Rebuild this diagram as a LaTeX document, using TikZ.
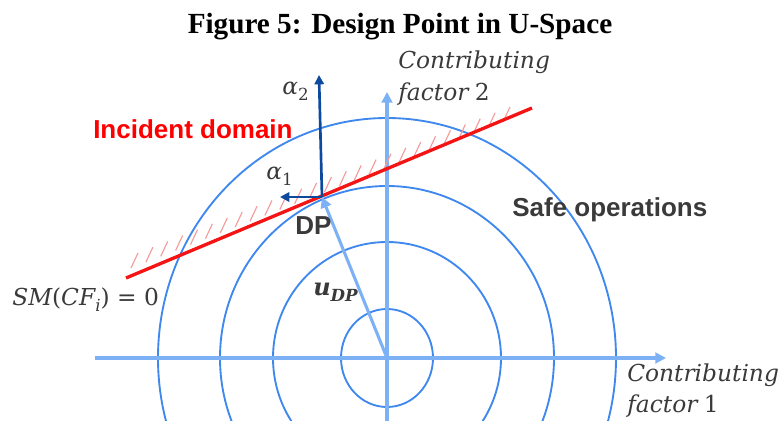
\documentclass[tikz,border=0pt]{standalone}
\usepackage{fontspec}
\setmainfont{Liberation Serif}
\newfontfamily\arialf{Liberation Sans}
\newfontfamily\cambf{DejaVu Serif}
\usetikzlibrary{arrows.meta,calc}
\definecolor{circblue}{HTML}{3F88EE}
\definecolor{axisblue}{HTML}{7DB1F5}
\definecolor{darkblue}{HTML}{0D4A9E}
\definecolor{redline}{HTML}{F41414}
\definecolor{hatchred}{HTML}{F59A9A}
\definecolor{txtgray}{HTML}{3A3A3A}
\newcommand\lsub[1]{\raisebox{-0.28em}{\fontsize{12.5}{14}\selectfont #1}}
\tikzset{
  circ/.style={draw=circblue, line width=1.4pt},
  axisline/.style={draw=axisblue, line width=2.3pt, -{Triangle[length=8pt,width=8pt]}},
  alphaarrow/.style={draw=darkblue, line width=2pt, -{Triangle[length=7pt,width=7pt]}},
  limitline/.style={draw=redline, line width=2.5pt},
  hatchline/.style={draw=hatchred, line width=0.85pt},
  mathlbl/.style={text=txtgray, inner sep=0pt, anchor=base west, font=\cambf\fontsize{17.5}{20}\selectfont},
  sanslbl/.style={inner sep=0pt, anchor=base west, font=\arialf\bfseries\fontsize{19.5}{23}\selectfont},
}
\begin{document}
\begin{tikzpicture}[x=0.75pt, y=-0.75pt]
\useasboundingbox (0,0) rectangle (783,421);
\coordinate (O) at (387,358);
\coordinate (DP) at (322,197);
\coordinate (xstart) at (95,358);
\coordinate (xtip) at (666,358);
\coordinate (ystart) at (387,440);
\coordinate (ytip) at (387,92);
\coordinate (a2tip) at (319,75);
\coordinate (a1tip) at (280,197);
\coordinate (L1) at (126,278);
\coordinate (L2) at (532,108);
\coordinate (H1) at (131,268);
\coordinate (H2) at (503,122);
\begin{scope}
\clip (0,0) rectangle (783,421);
\draw[circ] (O) ellipse [x radius=46, y radius=49];
\draw[circ] (O) ellipse [x radius=114, y radius=116];
\draw[circ] (O) ellipse [x radius=167, y radius=172];
\draw[circ] (O) ellipse [x radius=229, y radius=240];
\draw[axisline] (xstart) -- (xtip);
\draw[axisline] (ystart) -- (ytip);
\end{scope}
\foreach \i in {0,...,25} {
  \draw[hatchline] ($(H1)!\i/25!(H2)$) -- ++(7,-15);
}
\draw[limitline] (L1) -- (L2);
\draw[axisline] (O) -- (DP);
\draw[alphaarrow] (DP) -- (a2tip);
\draw[alphaarrow] (DP) -- (a1tip);
\node[font=\bfseries\fontsize{21.9}{26}\selectfont, inner sep=0pt] (title) at (400,27) {Figure 5: Design Point in U-Space};
\node[mathlbl] (cf2a) at (398,68) {\itshape Contributing};
\node[mathlbl] (cf2b) at (398,100) {\itshape factor\hspace{0.28em}\upshape 2};
\node[mathlbl] (cf1a) at (627,381) {\itshape Contributing};
\node[mathlbl] (cf1b) at (627,412) {\itshape factor\hspace{0.28em}\upshape 1};
\node[mathlbl] (sm) at (12,305) {\itshape SM\upshape(\itshape CF\lsub{\itshape i}\upshape) = 0};
\node[mathlbl] (al2) at (282,94) {\itshape α\lsub{\upshape 2}};
\node[mathlbl] (al1) at (266,179) {\itshape α\lsub{\upshape 1}};
\node[mathlbl, font=\cambf\bfseries\itshape\fontsize{18}{20}\selectfont] (udp) at (313,295) {u\lsub{\bfseries\itshape DP}};
\node[sanslbl, text=red] (inc) at (93,138) {Incident domain};
\node[sanslbl, text=txtgray] (dp) at (295,234) {DP};
\node[sanslbl, text=txtgray] (safe) at (512,216) {Safe operations};
\end{tikzpicture}
\end{document}
